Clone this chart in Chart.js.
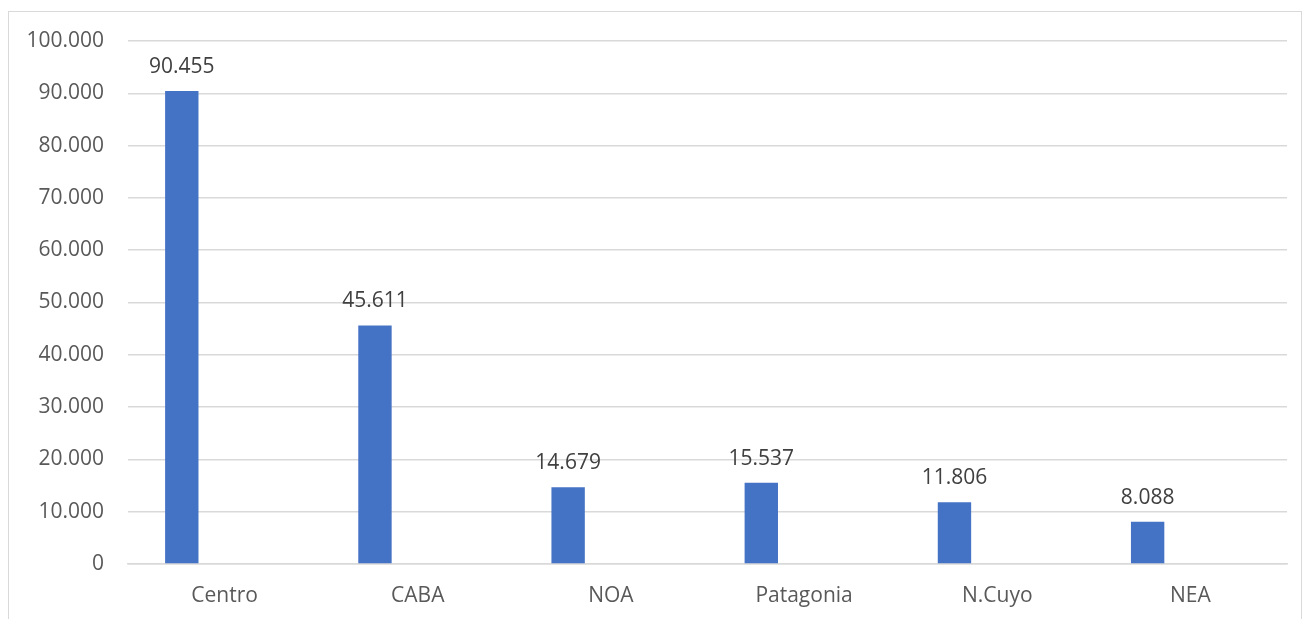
<!DOCTYPE html>
<html>
<head>
<meta charset="utf-8">
<script src="https://cdn.jsdelivr.net/npm/chart.js@4"></script>
<style>
  body { margin: 0; background: #fff; }
  #wrap { position: relative; width: 1304px; height: 619px; overflow: hidden; }
  #marco { position: absolute; left: 8px; top: 11px; width: 1294px; height: 640px; border: 1px solid #d9d9d9; box-sizing: border-box; }
  canvas { position: absolute; left: 0; top: 0; }
</style>
</head>
<body>
<div id="wrap">
  <div id="marco"></div>
  <canvas id="grafico" width="1304" height="619"></canvas>
</div>
<script>
// datos
const regiones = ['Centro', 'CABA', 'NOA', 'Patagonia', 'N.Cuyo', 'NEA'];
const valores = [90455, 45611, 14679, 15537, 11806, 8088];
const vacio = [null, null, null, null, null, null];

function miles(v) {
  return String(v).replace(/\B(?=(\d{3})+(?!\d))/g, '.');
}

// etiquetas sobre las barras
const etiquetas = {
  id: 'etiquetas',
  afterDatasetsDraw(chart) {
    const ctx = chart.ctx;
    const meta = chart.getDatasetMeta(0);
    ctx.save();
    ctx.font = '21px "Open Sans"';
    ctx.fillStyle = '#404040';
    ctx.textAlign = 'center';
    ctx.textBaseline = 'alphabetic';
    meta.data.forEach(function(bar, i) {
      ctx.fillText(miles(valores[i]), bar.x, bar.y - 18);
    });
    ctx.restore();
  }
};

const config = {
  type: 'bar',
  data: {
    labels: regiones,
    datasets: [{
      label: 'Total',
      data: valores,
      backgroundColor: '#4472C4',
      categoryPercentage: 0.886,
      barPercentage: 0.39
    },
    {
      label: 'Vacio',
      data: vacio,
      backgroundColor: '#ED7D31',
      categoryPercentage: 0.886,
      barPercentage: 0.39
    }]
  },
  options: {
    responsive: false,
    animation: false,
    layout: { padding: { left: 0, right: 17, top: 41, bottom: 0 } },
    plugins: {
      legend: { display: false },
      tooltip: { enabled: false }
    },
    scales: {
      x: {
        grid: { display: false, drawTicks: false },
        border: { color: '#d9d9d9', width: 1.5 },
        ticks: { color: '#595959', font: { family: 'Open Sans', size: 21 }, padding: 19 },
        afterFit: function(scale) { scale.height = 55; }
      },
      y: {
        min: 0,
        max: 100000,
        grid: { color: '#d9d9d9', lineWidth: 1.5, drawTicks: false },
        border: { display: false },
        ticks: {
          stepSize: 10000,
          color: '#595959',
          font: { family: 'Open Sans', size: 21 },
          padding: 24,
          callback: function(v) { return miles(v); }
        },
        afterFit: function(scale) { scale.width = 128; }
      }
    }
  },
  plugins: [etiquetas]
};

new Chart(document.getElementById('grafico'), config);
</script>
</body>
</html>
